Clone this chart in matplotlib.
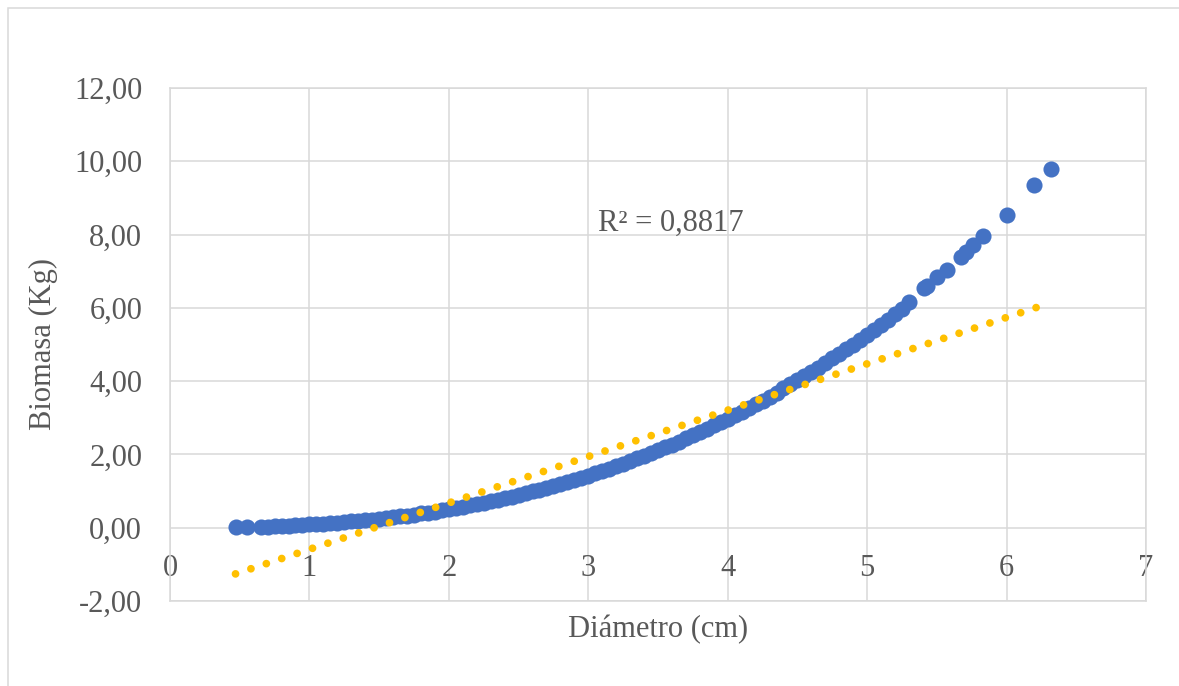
import matplotlib
matplotlib.use("Agg")
import matplotlib.pyplot as plt
from matplotlib.patches import Rectangle
from matplotlib.ticker import FuncFormatter

# diametro (cm) / biomasa (kg)
diametro = [0.47, 0.55,
            0.65, 0.70, 0.75, 0.80, 0.85, 0.90, 0.95, 1.00, 1.05, 1.10, 1.15,
            1.20, 1.25, 1.30, 1.35, 1.40, 1.45, 1.50, 1.55, 1.60, 1.65,
            1.70, 1.75, 1.80, 1.85, 1.90, 1.95, 2.00, 2.05, 2.10, 2.15,
            2.20, 2.25, 2.30, 2.35, 2.40, 2.45, 2.50, 2.55, 2.60, 2.65,
            2.70, 2.75, 2.80, 2.85, 2.90, 2.95, 3.00, 3.05, 3.10, 3.15,
            3.20, 3.25, 3.30, 3.35, 3.40, 3.45, 3.50, 3.55, 3.60, 3.65,
            3.70, 3.75, 3.80, 3.85, 3.90, 3.95, 4.00, 4.05, 4.10, 4.15,
            4.20, 4.25, 4.30, 4.35, 4.40, 4.45, 4.50, 4.55, 4.60, 4.65,
            4.70, 4.75, 4.80, 4.85, 4.90, 4.95, 5.00, 5.05, 5.10, 5.15,
            5.20, 5.25, 5.30,
            5.41, 5.43, 5.50, 5.57, 5.67, 5.71, 5.76, 5.83, 6.00, 6.20, 6.32]
biomasa = [0.02, 0.02,
           0.03, 0.03, 0.04, 0.05, 0.06, 0.07, 0.08, 0.09, 0.10, 0.11, 0.12,
           0.14, 0.15, 0.17, 0.18, 0.20, 0.22, 0.24, 0.26, 0.29, 0.31,
           0.33, 0.36, 0.39, 0.41, 0.44, 0.47, 0.50, 0.54, 0.57, 0.61,
           0.64, 0.68, 0.72, 0.76, 0.80, 0.85, 0.89, 0.94, 0.99, 1.04,
           1.09, 1.14, 1.19, 1.25, 1.31, 1.36, 1.42, 1.49, 1.55, 1.61,
           1.68, 1.75, 1.82, 1.89, 1.96, 2.04, 2.11, 2.19, 2.27, 2.35,
           2.44, 2.52, 2.61, 2.70, 2.79, 2.88, 2.97, 3.07, 3.17, 3.27,
           3.37, 3.47, 3.58, 3.69, 3.80, 3.91, 4.02, 4.14, 4.25, 4.37,
           4.49, 4.62, 4.74, 4.87, 5.00, 5.13, 5.26, 5.40, 5.54, 5.68,
           5.82, 5.97, 6.15,
           6.55, 6.60, 6.85, 7.04, 7.40, 7.53, 7.72, 7.95, 8.54, 9.36, 9.80]

# linea de tendencia lineal (extremos leidos)
tend_x = [0.47, 6.23]
tend_y = [-1.26, 6.03]
r2_texto = "R² = 0,8817"

azul = "#4472C4"
amarillo = "#FFC000"
gris_txt = "#595959"
gris_lin = "#D9D9D9"

plt.rcParams["font.family"] = ["Liberation Serif", "DejaVu Serif"]

fig = plt.figure(figsize=(11.79, 6.86), dpi=100)
W, H = 1179, 686
ax = fig.add_axes([170 / W, 1 - 601 / H, (1146 - 170) / W, (601 - 88) / H])

ax.plot(diametro, biomasa, "o", color=azul, ms=11.6, mew=0, zorder=3)
ax.plot(tend_x, tend_y, color=amarillo, lw=5.6, linestyle=(0, (0.001, 2.085)),
        dash_capstyle="round", zorder=4)

ax.text(3.07, 8.09, r2_texto, fontsize=22, color=gris_txt, va="baseline", ha="left")

ax.set_xlim(0, 7)
ax.set_ylim(-2, 12)
ax.set_xticks(range(0, 8))
ax.set_yticks(range(-2, 13, 2))
ax.yaxis.set_major_formatter(FuncFormatter(lambda v, p: f"{v:.2f}".replace(".", ",")))

ax.grid(True, color=gris_lin, lw=1.1)
ax.set_axisbelow(True)
for s in ax.spines.values():
    s.set_color(gris_lin)
    s.set_linewidth(1.1)

ax.tick_params(axis="both", length=0, labelsize=22, labelcolor=gris_txt)
ax.tick_params(axis="y", pad=20)
ax.tick_params(axis="x", pad=-34)

ax.set_xlabel("Diámetro (cm)", fontsize=22, color=gris_txt, va="center")
ax.xaxis.set_label_coords(0.5, (601 - 630) / 513)
ax.set_ylabel("Biomasa (Kg)", fontsize=22, color=gris_txt, va="center")
ax.yaxis.set_label_coords((43 - 170) / 976, 0.5)

# borde del area del grafico
fig.patches.append(Rectangle((8 / W, -0.1), 1.2, 1 - 8 / H + 0.1, transform=fig.transFigure,
                             fill=False, edgecolor=gris_lin, lw=1.1, clip_on=False))

fig.savefig("out.png", dpi=100)
